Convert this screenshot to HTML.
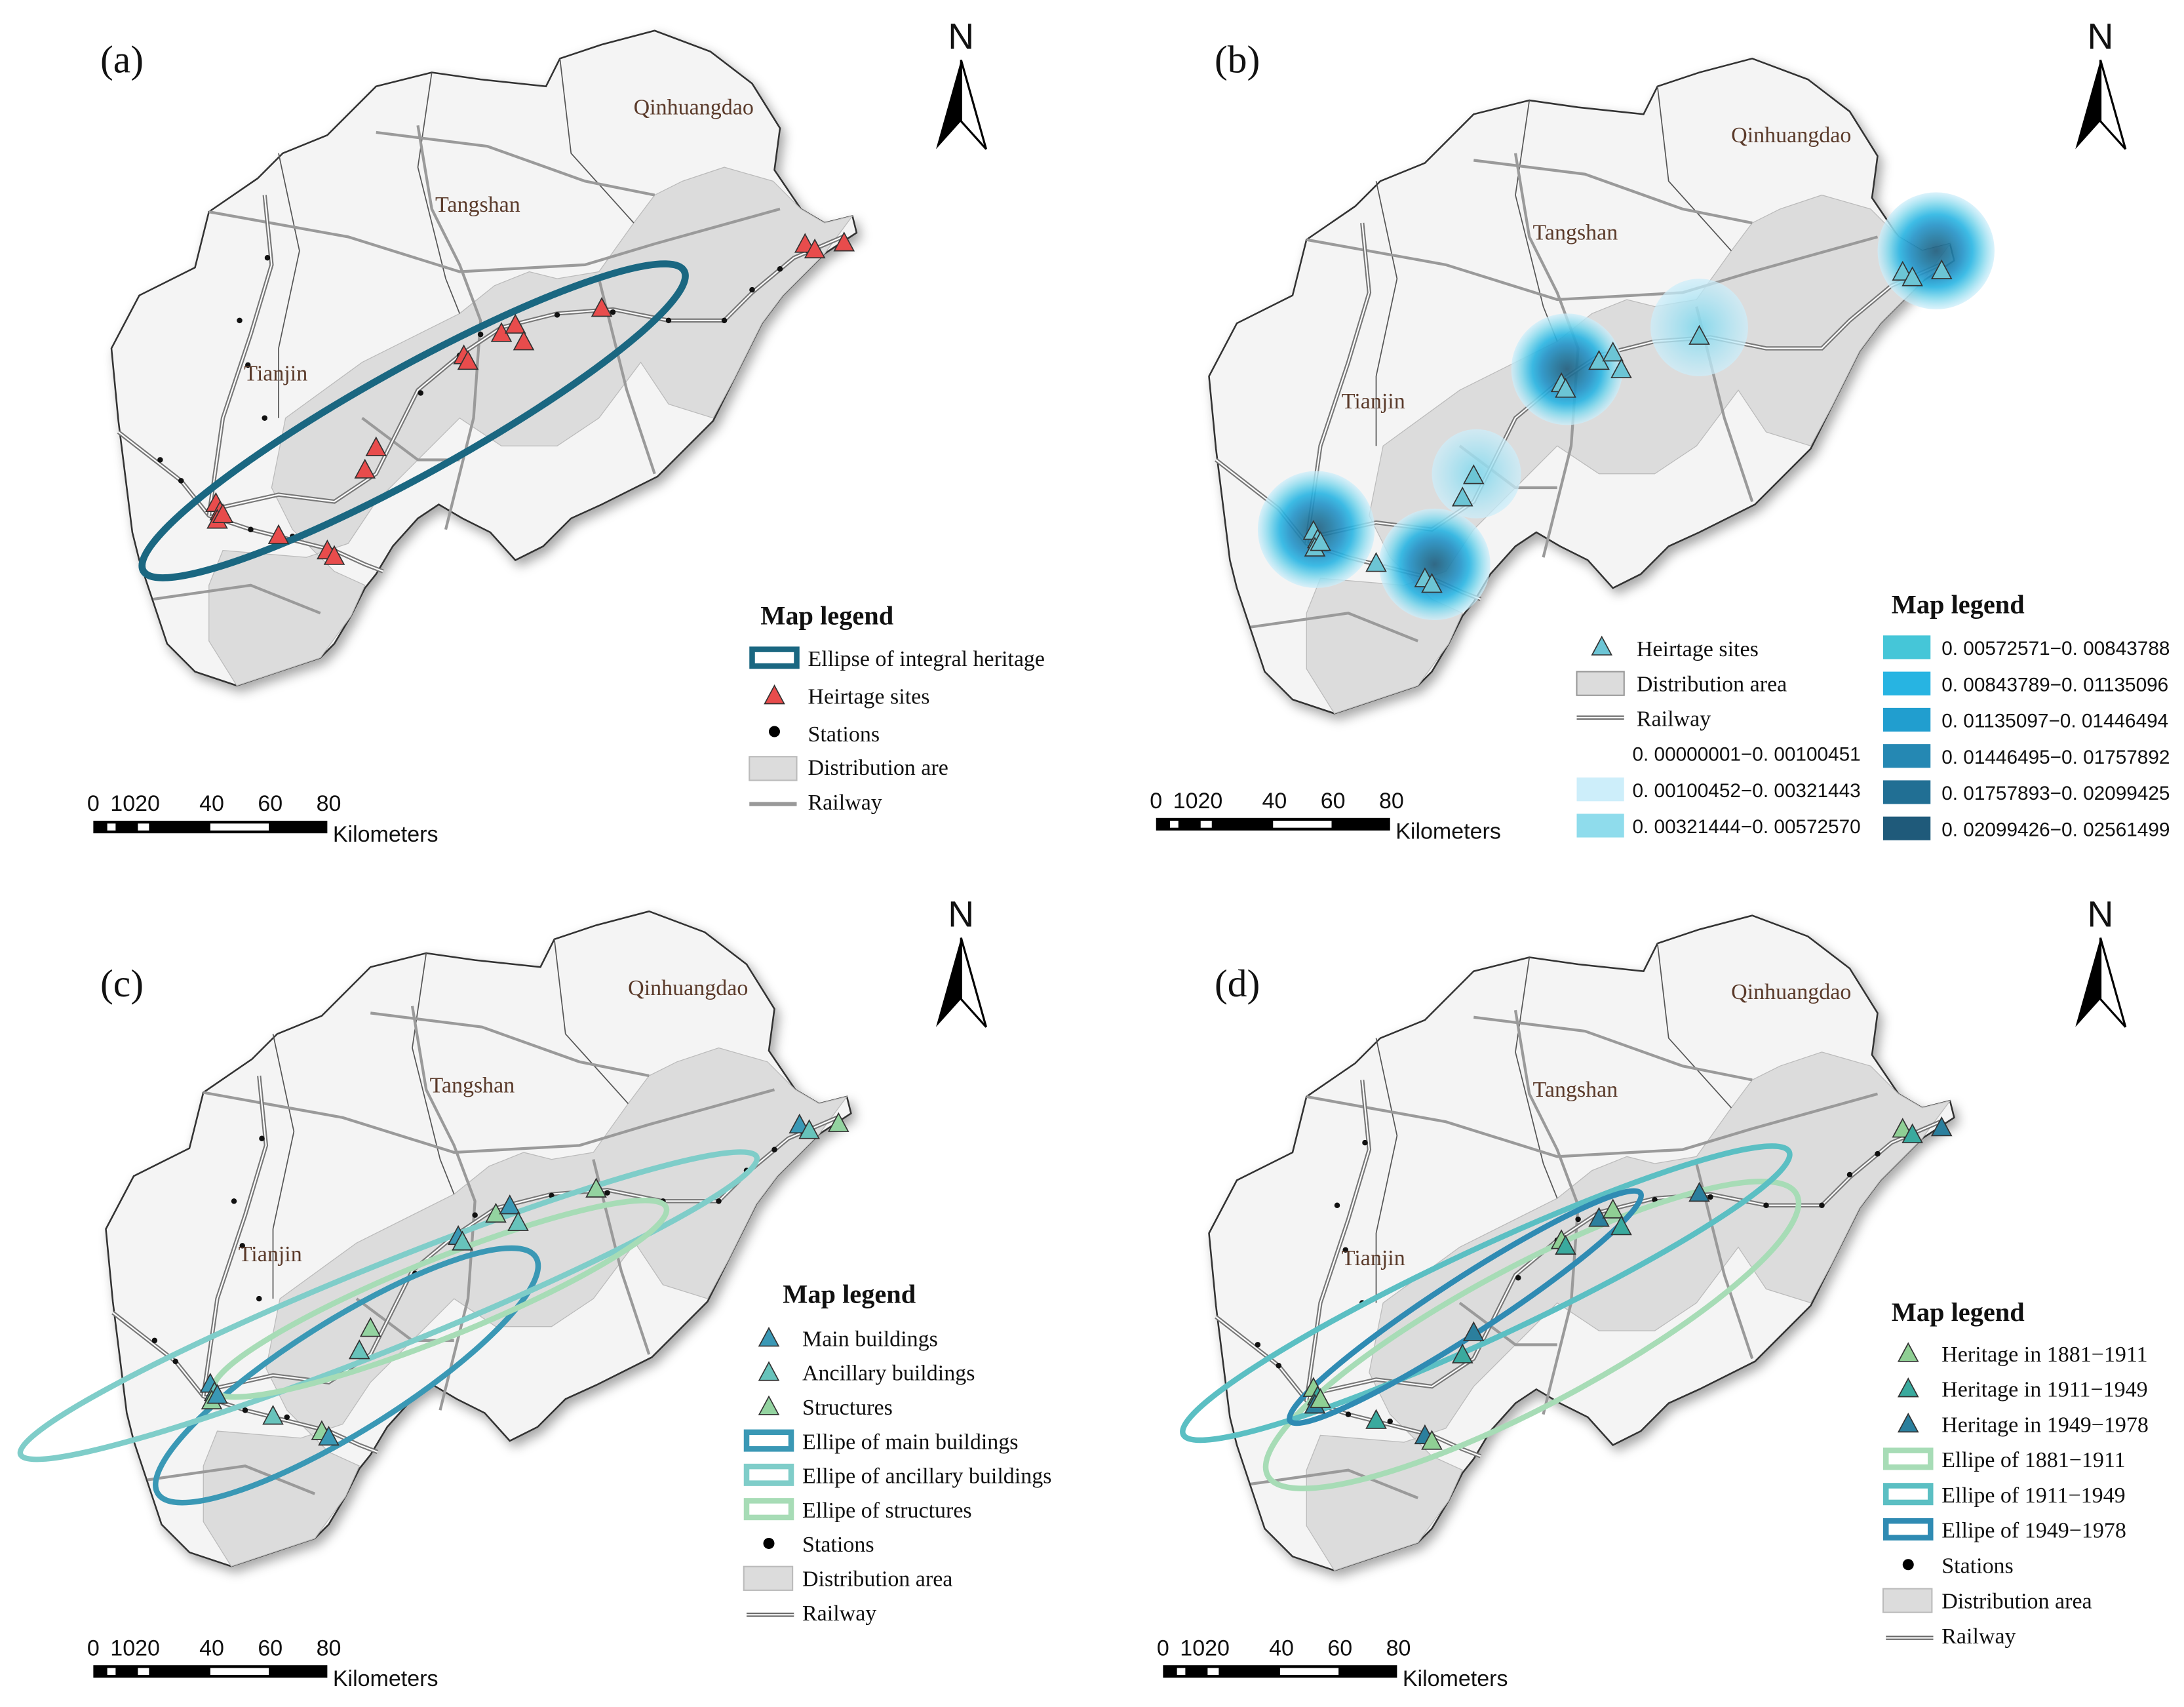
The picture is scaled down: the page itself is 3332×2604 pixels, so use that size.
<!DOCTYPE html>
<html><head><meta charset="utf-8"><style>
html,body{margin:0;padding:0;background:#fff;}
svg{display:block;}
text{font-family:"Liberation Serif",serif;}
.sans{font-family:"Liberation Sans",sans-serif;}
</style></head><body>
<svg id="fig" width="3332" height="2604" viewBox="0 0 1568 1225" preserveAspectRatio="none" xmlns="http://www.w3.org/2000/svg">
<defs>
<filter id="sh" x="-10%" y="-10%" width="130%" height="130%"><feDropShadow dx="3" dy="4" stdDeviation="4" flood-color="#000" flood-opacity="0.35"/></filter>
<radialGradient id="kd"><stop offset="0" stop-color="#1e5c7c"/><stop offset="0.25" stop-color="#1f7aa3"/><stop offset="0.45" stop-color="#2393c8"/><stop offset="0.62" stop-color="#29b5e3"/><stop offset="0.8" stop-color="#7fd7ec"/><stop offset="1" stop-color="#cdeefa" stop-opacity="0.8"/></radialGradient>
<radialGradient id="kl"><stop offset="0" stop-color="#7fd7ec"/><stop offset="1" stop-color="#cdeefa" stop-opacity="0.8"/></radialGradient>
</defs>
<g id="root"></g>
</svg>
<script>
// ---- data ----
const outline=[[80,250],[100,212],[140,192],[150,152],[185,128],[203,110],[235,97],[270,62],[310,52],[345,57],[392,62],[402,42],[432,32],[470,22],[510,37],[540,60],[560,92],[556,122],[575,150],[592,160],[612,155],[615,167],[592,182],[562,212],[547,232],[527,272],[512,302],[492,322],[472,342],[432,362],[410,372],[390,392],[370,402],[352,382],[332,372],[315,362],[300,372],[282,392],[270,412],[262,422],[252,442],[240,462],[230,472],[200,482],[170,492],[140,482],[120,462],[110,432],[100,402],[95,382],[90,342],[85,302]];
const distA=[[205,300],[260,260],[300,240],[330,225],[355,205],[380,195],[400,200],[430,195],[455,160],[470,140],[490,130],[520,120],[555,130],[575,150],[592,160],[612,155],[592,182],[562,212],[547,232],[527,272],[512,300],[480,290],[460,260],[430,300],[400,320],[360,320],[330,300],[300,330],[270,360],[250,390],[220,400],[160,395],[150,420],[150,460],[170,492],[200,482],[230,472],[252,442],[262,420],[240,410],[210,380],[195,350]];
const sitesA=[[155,362],[158,368],[156,374],[160,370],[200,385],[235,396],[240,400],[262,338],[270,322],[333,256],[336,260],[360,240],[370,234],[376,246],[432,222],[578,176],[585,180],[606,175]];
const rail=[[85,310],[130,345],[150,370],[180,380],[240,395],[262,405],[275,410]];
const rail2=[[155,365],[200,355],[240,360],[270,340],[300,280],[330,255],[360,235],[400,225],[440,222],[480,230],[520,230],[540,210],[570,185],[605,170]];
const rail3=[[150,370],[160,300],[180,240],[195,190],[190,140]];
const stations=[[115,330],[130,345],[155,365],[180,380],[210,385],[240,395],[190,300],[178,262],[172,230],[192,185],[302,282],[330,255],[345,240],[370,232],[400,226],[440,224],[480,230],[520,230],[540,208],[560,193],[580,180]];
const ellA=[{cx:297,cy:302,rx:222,ry:38,rot:-29,c:'#1a6781',w:5}];
const ellC=[{cx:253,cy:355,rx:160,ry:40,rot:-32,c:'#3a98b5',w:4},{cx:283,cy:305,rx:285,ry:30,rot:-22,c:'#7fcdc9',w:4},{cx:320,cy:300,rx:175,ry:28,rot:-22,c:'#a7dcb6',w:4}];
const ellD=[{cx:1100,cy:958,rx:215,ry:50,rot:-28,c:'#a7dcb6',w:4},{cx:1067,cy:928,rx:240,ry:32,rot:-25,c:'#5bbfc3',w:4},{cx:1052,cy:938,rx:150,ry:20,rot:-33,c:'#2f8bb3',w:4}];
const kernels=[[945,380,42],[1030,405,40],[1125,265,40],[1390,180,42],[1060,340,32],[1220,235,35]];
const legendB1=["0. 00000001−0. 00100451","0. 00100452−0. 00321443","0. 00321444−0. 00572570"];
const legendB2=["0. 00572571−0. 00843788","0. 00843789−0. 01135096","0. 01135097−0. 01446494","0. 01446495−0. 01757892","0. 01757893−0. 02099425","0. 02099426−0. 02561499"];
const colB1=["none","#cdeefa","#8fdcec"];
const colB2=["#45c6d8","#27b4e2","#219ecf","#2588b3","#216f94","#1f5a7a"];

const NS="http://www.w3.org/2000/svg";
const root=document.getElementById('root');
function el(t,a,p){const e=document.createElementNS(NS,t);for(const k in a)e.setAttribute(k,a[k]);(p||root).appendChild(e);return e;}
function pts(arr,dx,dy){return arr.map(p=>(p[0]+dx)+','+(p[1]+dy)).join(' ');}
function tri(x,y,fill,g){const e=el('polygon',{points:`${x},${y-8} ${x-7},${y+5} ${x+7},${y+5}`,fill:fill,stroke:'#333','stroke-width':0.8},g);

return e;}
function txt(x,y,s,size,g,extra){const t=el('text',Object.assign({x:x,y:y,'font-size':size,fill:'#111'},extra||{}),g);t.textContent=s;return t;}

function panel(name,label,dx,dy){
 const g=el('g',{});
 
 
 const m=el('polygon',{points:pts(outline,dx,dy),fill:'#f4f4f4',stroke:'#333','stroke-width':1.2,filter:'url(#sh)'},g);
 
 
 const d=el('polygon',{points:pts(distA,dx,dy),fill:'#dcdcdc',stroke:'#bbb','stroke-width':0.6},g);
 
 
 [[[200,110],[215,180],[200,250],[200,300]],[[310,52],[300,120],[320,200],[330,225]],[[402,42],[410,110],[455,160]]].forEach(l=>el('polyline',{points:pts(l,dx,dy),fill:'none',stroke:'#555','stroke-width':0.8},g));
 [[[150,152],[250,170],[330,195],[420,190],[470,175],[560,150]],[[270,95],[350,105],[420,130],[470,140]],[[300,90],[310,150],[330,190],[345,230],[340,300],[320,380]],[[430,200],[450,280],[470,340]],[[110,430],[180,420],[230,440]],[[260,300],[300,330],[330,330]]].forEach(l=>el('polyline',{points:pts(l,dx,dy),fill:'none',stroke:'#9a9a9a','stroke-width':2},g));
 [rail,rail2,rail3].forEach(l=>{el('polyline',{points:pts(l,dx,dy),fill:'none',stroke:'#777','stroke-width':3},g);el('polyline',{points:pts(l,dx,dy),fill:'none',stroke:'#fff','stroke-width':1},g);});
 if(name!=='b') stations.forEach(s=>el('circle',{cx:s[0]+dx,cy:s[1]+dy,r:2,fill:'#111'},g));
 txt(dx+498,dy+82,'Qinhuangdao',16,g,{'text-anchor':'middle',fill:'#5a3a2a'});
 txt(dx+343,dy+152,'Tangshan',16,g,{'text-anchor':'middle',fill:'#5a3a2a'});
 txt(dx+198,dy+273,'Tianjin',16,g,{'text-anchor':'middle',fill:'#5a3a2a'});
 return g;
}
function northArrow(x,y){const g=el('g',{});
 txt(x,y,'N',26,g,{'text-anchor':'middle',class:'sans'});
 el('polygon',{points:`${x},${y+8} ${x-18},${y+72} ${x},${y+52}`,fill:'#000'},g);
 el('polygon',{points:`${x},${y+8} ${x+18},${y+72} ${x},${y+52}`,fill:'#fff',stroke:'#000','stroke-width':1.5},g);}
function scaleBar(x,y){const g=el('g',{});
 ['0','1020','40','60','80'].forEach((s,i)=>txt(x+[0,30,85,127,169][i],y,s,16,g,{'text-anchor':'middle',class:'sans'}));
 el('rect',{x:x,y:y+7,width:168,height:9,fill:'#000'},g);
 [[x+10,6],[x+32,8],[x+84,42]].forEach(r=>el('rect',{x:r[0],y:y+9,width:r[1],height:5,fill:'#fff'},g));
 txt(x+172,y+22,'Kilometers',16,g,{class:'sans'});}
function ellipses(list,dx,dy,g){list.forEach(e=>{const c=el('ellipse',{cx:e.cx+dx,cy:e.cy+dy,rx:e.rx,ry:e.ry,transform:`rotate(${e.rot} ${e.cx+dx} ${e.cy+dy})`,fill:'none',stroke:e.c,'stroke-width':e.w},g);
 });}
function legendItem(it,x,y,g){
 if(it[0]==='tri')tri(x+16,y-5,it[1],g);
 if(it[0]==='ell')el('rect',{x:x,y:y-12,width:32,height:12,fill:'none',stroke:it[1],'stroke-width':4},g);
 if(it[0]==='dot')el('circle',{cx:x+16,cy:y-6,r:4,fill:'#000'},g);
 if(it[0]==='rect')el('rect',{x:x-2,y:y-14,width:35,height:17,fill:'#dcdcdc',stroke:'#bbb'},g);
 if(it[0]==='rail'){el('line',{x1:x,y1:y-4,x2:x+34,y2:y-4,stroke:'#666','stroke-width':3},g);el('line',{x1:x,y1:y-4,x2:x+34,y2:y-4,stroke:'#fff','stroke-width':1},g);}
 txt(x+40,y,it[2],16,g);}

// Panel a
let ga=panel('a','(a)',0,0);
txt(72,52,'(a)',28,ga);
ellipses(ellA,0,0,ga);
sitesA.forEach(s=>tri(s[0],s[1],'#e84c4c',ga));
northArrow(690,35);scaleBar(67,582);
let la=el('g',{});
txt(546,448,'Map legend',19,la,{'font-weight':'bold'});
el('rect',{x:540,y:466,width:32,height:12,fill:'none',stroke:'#1a6781','stroke-width':4},la);txt(580,478,'Ellipse of integral heritage',16,la);
tri(556,500,'#e84c4c',la);txt(580,505,'Heirtage sites',16,la);
el('circle',{cx:556,cy:525,r:4,fill:'#000'},la);txt(580,532,'Stations',16,la);
el('rect',{x:538,y:543,width:34,height:17,fill:'#dcdcdc',stroke:'#bbb'},la);txt(580,556,'Distribution are',16,la);
el('line',{x1:538,y1:577,x2:572,y2:577,stroke:'#999','stroke-width':3},la);txt(580,581,'Railway',16,la);

// Panel b
const bx=788,by=20;
let gb=panel('b','(b)',bx,by);
txt(872,52,'(b)',28,gb);
kernels.forEach(k=>{const c=el('circle',{cx:k[0],cy:k[1],r:k[2],fill:k[2]>38?'url(#kd)':'url(#kl)','fill-opacity':0.9},gb);});
sitesA.forEach(s=>tri(s[0]+bx,s[1]+by,'#6cc5d5',gb));
northArrow(1508,35);scaleBar(830,580);
let lb=el('g',{});
txt(1358,440,'Map legend',19,lb,{'font-weight':'bold'});
tri(1150,465,'#6cc5d5',lb);txt(1175,471,'Heirtage sites',16,lb);
el('rect',{x:1132,y:482,width:34,height:17,fill:'#dcdcdc',stroke:'#999'},lb);txt(1175,496,'Distribution area',16,lb);
el('line',{x1:1132,y1:515,x2:1166,y2:515,stroke:'#666','stroke-width':3},lb);el('line',{x1:1132,y1:515,x2:1166,y2:515,stroke:'#fff','stroke-width':1},lb);txt(1175,521,'Railway',16,lb);
legendB1.forEach((s,i)=>{if(colB1[i]!=='none')el('rect',{x:1132,y:532+i*26,width:34,height:17,fill:colB1[i]},lb);txt(1172,546+i*26,s,14,lb,{class:'sans'});});
legendB2.forEach((s,i)=>{el('rect',{x:1352,y:456+i*26,width:34,height:17,fill:colB2[i]},lb);txt(1394,470+i*26,s,14,lb,{class:'sans'});});

// Panel c
const cx0=-4,cy0=632;
let gc=panel('c','(c)',cx0,cy0);
txt(72,715,'(c)',28,gc);
ellipses(ellC,cx0,cy0,gc);
const colsC=['#3a98b5','#67c3bb','#93d3a0'];
sitesA.forEach((s,i)=>tri(s[0]+cx0,s[1]+cy0,colsC[i%3],gc));
northArrow(690,665);scaleBar(67,1188);
let lc=el('g',{});
txt(562,935,'Map legend',19,lc,{'font-weight':'bold'});
const lcItems=[['tri','#3a98b5','Main buildings'],['tri','#67c3bb','Ancillary buildings'],['tri','#93d3a0','Structures'],['ell','#3a98b5','Ellipe of main buildings'],['ell','#7fcdc9','Ellipe of ancillary buildings'],['ell','#a7dcb6','Ellipe of structures'],['dot','','Stations'],['rect','','Distribution area'],['rail','','Railway']];
lcItems.forEach((it,i)=>legendItem(it,536,966+i*24.6,lc));

// Panel d
const dx0=788,dy0=635;
let gd=panel('d','(d)',dx0,dy0);
txt(872,715,'(d)',28,gd);
ellipses(ellD,0,0,gd);
const colsD=['#8fcf94','#3aaa9e','#2b7f9d'];
sitesA.forEach((s,i)=>tri(s[0]+dx0,s[1]+dy0,colsD[i%3],gd));
northArrow(1508,665);scaleBar(835,1188);
let ld=el('g',{});
txt(1358,948,'Map legend',19,ld,{'font-weight':'bold'});
const ldItems=[['tri','#8fcf94','Heritage in 1881−1911'],['tri','#3aaa9e','Heritage in 1911−1949'],['tri','#2b7f9d','Heritage in 1949−1978'],['ell','#a7dcb6','Ellipe of 1881−1911'],['ell','#5bbfc3','Ellipe of 1911−1949'],['ell','#2f8bb3','Ellipe of 1949−1978'],['dot','','Stations'],['rect','','Distribution area'],['rail','','Railway']];
ldItems.forEach((it,i)=>legendItem(it,1354,977+i*25.3,ld));
</script>
</body></html>
